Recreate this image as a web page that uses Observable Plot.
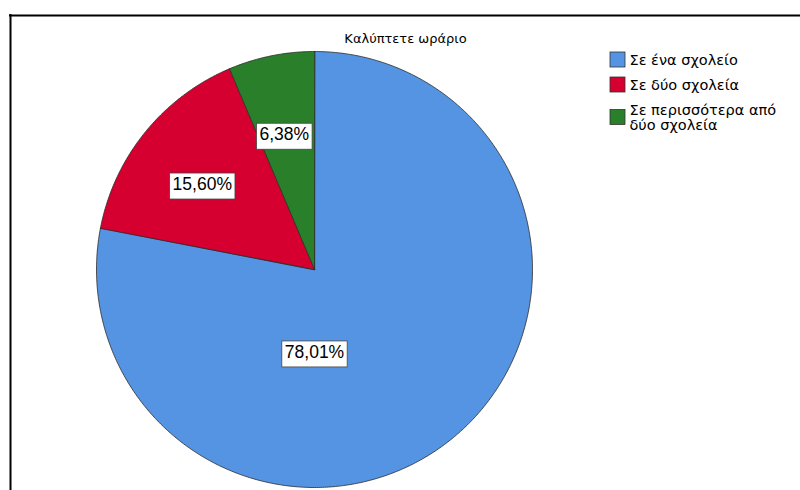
<!DOCTYPE html>
<html><head><meta charset="utf-8">
<script src="https://cdn.jsdelivr.net/npm/d3@7"></script>
<script src="https://cdn.jsdelivr.net/npm/@observablehq/plot@0.6"></script>
<style>body{margin:0;background:#fff} svg{display:block}</style>
</head><body><div id="chart"></div>
<script>
const title = "Καλύπτετε ωράριο";
const categories = ["Σε ένα σχολείο", "Σε δύο σχολεία", "Σε περισσότερα από\nδύο σχολεία"];
const percents = [78.01, 15.60, 6.38];
const colors = ["#5594E2", "#D5002F", "#2A7F2B"];

// layout
const W = 800, H = 490;
const CX = 314, CY = 269, R = 218;
const FONT = "'Liberation Sans', Arial, sans-serif";
const FONT2 = "'DejaVu Sans', Verdana, sans-serif";

const total = d3.sum(percents);
let acc = 0;
const slices = categories.map((c, i) => {
  const a0 = acc / total * 2 * Math.PI;
  acc += percents[i];
  const a1 = acc / total * 2 * Math.PI;
  return {cat: c, value: percents[i], a0, a1, mid: (a0 + a1) / 2, i};
});

// polygon points for each slice
const pts = [];
for (const s of slices) {
  pts.push({cat: s.cat, x: CX, y: CY});
  const n = Math.max(4, Math.ceil((s.a1 - s.a0) / (Math.PI / 360)));
  for (let k = 0; k <= n; k++) {
    const a = s.a0 + (s.a1 - s.a0) * k / n;
    pts.push({cat: s.cat, x: CX + R * Math.sin(a), y: CY - R * Math.cos(a)});
  }
}

// label placement: along the mid-angle; the dominant slice's label sits below the centre
const labels = slices.map(s => {
  const big = s.a1 - s.a0 > Math.PI;
  const ang = big ? Math.PI : s.mid;
  const r = big ? 0.38 * R : 0.65 * R;
  return {text: s.value.toFixed(2).replace(".", ",") + "%", x: CX + r * Math.sin(ang) - (big ? 0 : 2), y: CY - r * Math.cos(ang) + (big ? 0 : 4)};
});

// legend layout
const LX = 610, LS = 15, LTOP = 52, LINE = 15, GAP = 10, LFS = 14.5;
let ly = LTOP;
const legend = categories.map((c, i) => {
  const lines = c.split("\n").length;
  const h = lines * LINE;
  const row = {cat: c, top: ly, mid: ly + h / 2};
  ly += h + GAP;
  return row;
});

const chart = Plot.plot({
  width: W, height: H,
  margin: 0,
  x: {domain: [0, W], range: [0, W], axis: null},
  y: {domain: [0, H], range: [0, H], axis: null},
  color: {domain: categories, range: colors},
  style: {fontFamily: FONT, background: "#fff"},
  marks: [
    Plot.ruleY([15], {x1: 9, x2: W, stroke: "#000", strokeWidth: 2}),
    Plot.ruleX([10], {y1: 14, y2: H, stroke: "#000", strokeWidth: 2}),
    Plot.line(pts, {x: "x", y: "y", z: "cat", fill: "cat", stroke: "#2a2a2a", strokeWidth: 0.8, curve: "linear-closed"}),
    Plot.text(labels, {x: "x", y: "y", text: "text", fontSize: 17.5, fill: "#000"}),
    Plot.text([title], {x: () => 405, y: () => 38, text: d => d, fontSize: 13, fontFamily: FONT2, fill: "#000"}),
    Plot.rect(legend, {x1: () => LX, x2: () => LX + LS, y1: d => d.mid - LS / 2, y2: d => d.mid + LS / 2, fill: "cat", stroke: "#333", strokeWidth: 0.8}),
    Plot.text(legend, {x: () => LX + LS + 4, y: "mid", text: "cat", textAnchor: "start", fontSize: LFS, fontFamily: FONT2, lineHeight: LINE / LFS, fill: "#000"})
  ]
});
document.getElementById("chart").appendChild(chart);

// white boxes behind the percentage labels
const svgns = "http://www.w3.org/2000/svg";
Array.from(chart.querySelectorAll("text")).filter(t => /%$/.test(t.textContent.trim())).forEach(t => {
  const bb = t.getBBox();
  const r = document.createElementNS(svgns, "rect");
  r.setAttribute("x", bb.x - 3);
  r.setAttribute("y", bb.y - 1);
  r.setAttribute("width", bb.width + 6);
  r.setAttribute("height", bb.height + 6);
  r.setAttribute("fill", "#fff");
  r.setAttribute("stroke", "#444");
  r.setAttribute("stroke-width", "0.8");
  if (t.getAttribute("transform")) r.setAttribute("transform", t.getAttribute("transform"));
  t.parentNode.insertBefore(r, t);
});
</script>
</body></html>
